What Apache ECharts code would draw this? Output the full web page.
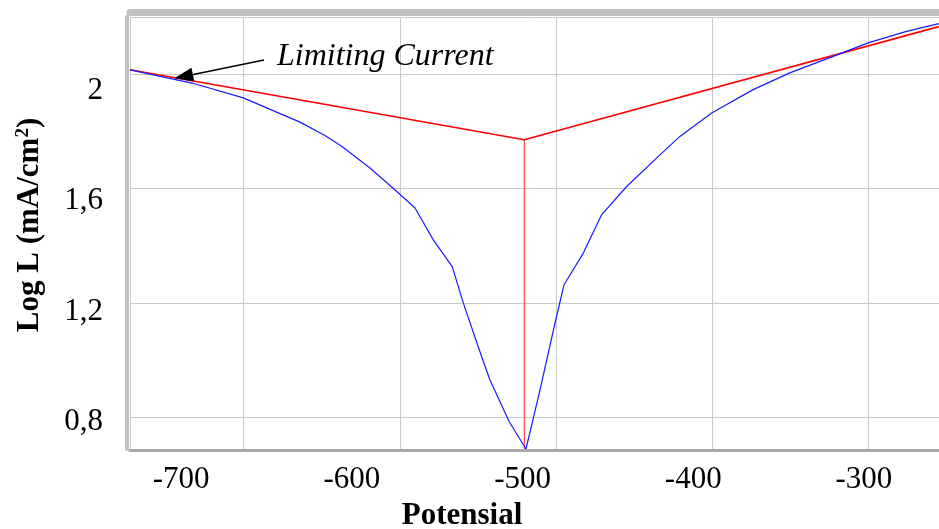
<!DOCTYPE html>
<html>
<head>
<meta charset="utf-8">
<script src="https://cdn.jsdelivr.net/npm/echarts@6/dist/echarts.min.js"></script>
<style>
  html, body { margin: 0; padding: 0; background: #fff; }
  #chart { width: 939px; height: 529px; }
</style>
</head>
<body>
<div id="chart"></div>
<script>
// polarization curve (blue), potential vs log current
const blueCurve = [
  [-730, 2.078], [-693.7, 2.030], [-663.6, 1.976], [-630.4, 1.888], [-615.8, 1.839],
  [-606.0, 1.800], [-589.4, 1.721], [-574.8, 1.642], [-563.0, 1.576], [-552.3, 1.460],
  [-541.2, 1.363], [-534.7, 1.230], [-524.0, 1.036], [-519.1, 0.951], [-507.8, 0.799],
  [-498.0, 0.700], [-490.2, 0.903], [-481.0, 1.157], [-475.7, 1.297], [-464.4, 1.412],
  [-453.7, 1.551], [-439.0, 1.654], [-419.5, 1.769], [-407.8, 1.836], [-389.2, 1.921],
  [-364.9, 2.006], [-343.4, 2.067], [-318.0, 2.127], [-297.5, 2.176], [-275.0, 2.218],
  [-256.1, 2.246]
]
// Tafel extrapolation lines (red)
const tafelLines = [[-730, 2.078], [-499, 1.824], [-256.1, 2.235]]
const ecorrLine = [[-499, 1.824], [-499, 0.70]]

// annotation arrow
const annotationText = 'Limiting Current'
const annotationFrom = [-651.5, 2.114]
const annotationTo = [-698.6, 2.054]

// axis ticks / labels
const xLabelValues = [-700, -600, -500, -400, -300]
const yLabelValues = [0.8, 1.2, 1.6, 2.0]
const xAxisName = 'Potensial'

const serif = '"Liberation Serif", "Times New Roman", serif'

const chart = echarts.init(document.getElementById('chart'))

const option = {
  animation: false,
  grid: {
    left: 130,
    top: 17,
    right: 0,
    bottom: 80,
    outerBoundsMode: 'none'
  },
  xAxis: [
    {
      type: 'value',
      min: -730,
      max: -256,
      interval: 10,
      position: 'bottom',
      offset: 1.5,
      name: xAxisName,
      nameLocation: 'middle',
      nameGap: 46,
      nameTextStyle: {
        fontFamily: serif,
        fontWeight: 'bold',
        fontSize: 31,
        color: '#000',
        padding: [0, 145, 0, 0]
      },
      axisLine: { show: true, lineStyle: { color: '#a8a8a8', width: 3 } },
      axisTick: { show: false },
      splitLine: { show: false },
      axisLabel: {
        margin: 14,
        fontFamily: serif,
        fontSize: 31,
        color: '#000',
        formatter: v => (xLabelValues.indexOf(Math.round(v)) >= 0 && Math.abs(v - Math.round(v)) < 1e-6) ? String(Math.round(v)) : ''
      }
    },
    {
      // gridline axis
      type: 'value',
      min: 27.2,
      max: 545.3,
      splitNumber: 5,
      position: 'top',
      offset: 4.5,
      axisLine: { show: true, lineStyle: { color: '#c0c0c0', width: 7 } },
      axisTick: { show: false },
      axisLabel: { show: false },
      splitLine: { show: true, lineStyle: { color: '#c8c8c8', width: 1 } }
    }
  ],
  yAxis: [
    {
      type: 'value',
      min: 0.7,
      max: 2.27,
      interval: 0.1,
      position: 'left',
      offset: 3,
      name: '{a|Log L (mA/cm}{s|2}{a|)}',
      nameLocation: 'middle',
      nameGap: 82,
      nameTextStyle: {
        padding: [0, 0, 0, 16],
        rich: {
          a: { fontFamily: serif, fontWeight: 'bold', fontSize: 31, color: '#000' },
          s: { fontFamily: serif, fontWeight: 'bold', fontSize: 19, color: '#000', verticalAlign: 'top' }
        }
      },
      axisLine: { show: true, lineStyle: { color: '#c0c0c0', width: 4 } },
      axisTick: { show: false },
      splitLine: { show: false },
      axisLabel: {
        margin: 24,
        fontFamily: serif,
        fontSize: 31,
        color: '#000',
        formatter: v => {
          const t = Math.round(v * 10)
          if (Math.abs(v * 10 - t) > 1e-6) return ''
          if (yLabelValues.indexOf(t / 10) < 0) return ''
          return String(t / 10).replace('.', ',')
        }
      }
    },
    {
      // gridline axis
      type: 'value',
      min: 72,
      max: 450.4,
      splitNumber: 4,
      position: 'right',
      axisLine: { show: false },
      axisTick: { show: false },
      axisLabel: { show: false },
      splitLine: { show: true, lineStyle: { color: '#c8c8c8', width: 1 } }
    }
  ],
  series: [
    {
      name: 'Tafel',
      type: 'line',
      xAxisIndex: 0,
      yAxisIndex: 0,
      data: tafelLines,
      symbol: 'none',
      lineStyle: { color: '#ff0000', width: 1.6 }
    },
    {
      name: 'Ecorr',
      type: 'line',
      xAxisIndex: 0,
      yAxisIndex: 0,
      data: ecorrLine,
      symbol: 'none',
      lineStyle: { color: '#ff2020', width: 1 }
    },
    {
      name: 'Log L',
      type: 'line',
      xAxisIndex: 0,
      yAxisIndex: 0,
      data: blueCurve,
      symbol: 'none',
      lineStyle: { color: '#1a1aff', width: 1.2 }
    },
    {
      name: 'annotation',
      type: 'scatter',
      xAxisIndex: 0,
      yAxisIndex: 0,
      data: [annotationFrom],
      symbolSize: 0,
      silent: true,
      itemStyle: { opacity: 1 },
      label: {
        show: true,
        position: 'right',
        distance: 13,
        offset: [0, -3],
        formatter: annotationText,
        fontFamily: serif,
        fontStyle: 'italic',
        fontSize: 32,
        color: '#000',
        opacity: 1
      },
      markLine: {
        silent: true,
        symbol: ['none', 'triangle'],
        label: { show: false },
        lineStyle: { color: '#000', width: 1.5, type: 'solid', opacity: 1 },
        data: [
          [
            { coord: annotationFrom, symbol: 'none' },
            { coord: annotationTo, symbol: 'triangle', symbolSize: [14, 19] }
          ]
        ]
      }
    }
  ]
}

chart.setOption(option)
</script>
</body>
</html>
